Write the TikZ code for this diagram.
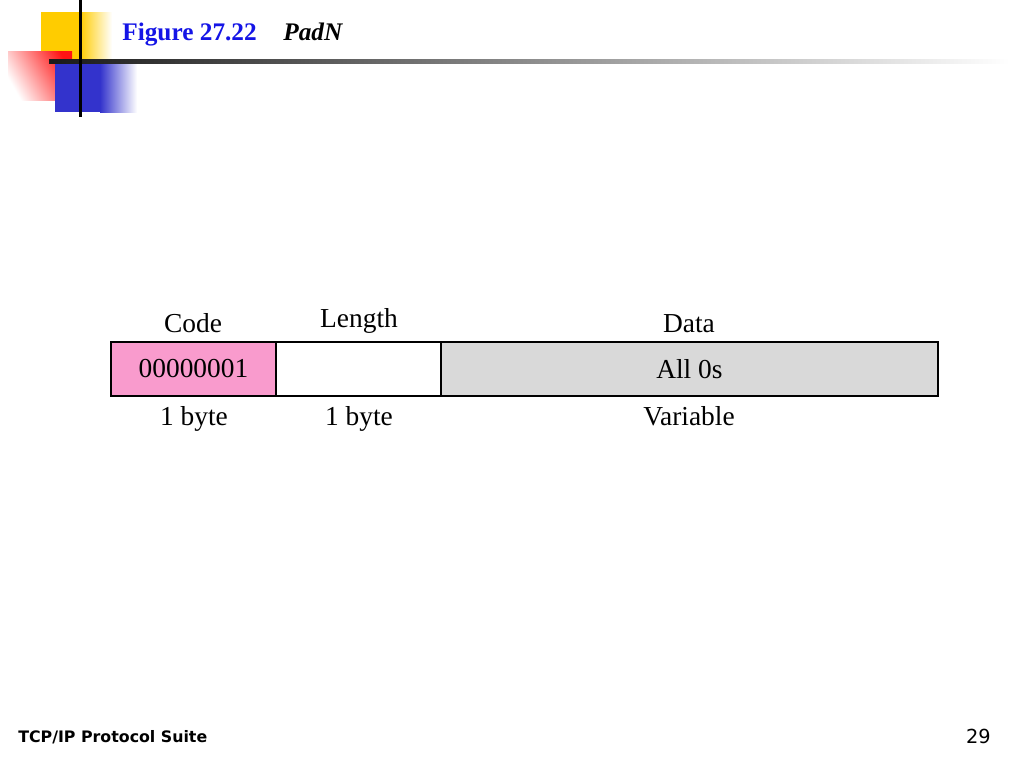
\documentclass[tikz,border=0pt]{standalone}
\usepackage{fontspec}
\setmainfont{Liberation Serif}
\newfontfamily\footfont{DejaVu Sans}
\usetikzlibrary{positioning}

\definecolor{codepink}{RGB}{249,155,205}
\definecolor{datagray}{RGB}{217,217,217}
\definecolor{titleblue}{RGB}{20,20,230}
\definecolor{decoyellow}{RGB}{255,204,0}
\definecolor{decored}{RGB}{255,20,20}
\definecolor{decoblue}{RGB}{51,51,204}

\tikzset{
  field/.style={draw, line width=1pt, minimum height=1.08cm, inner sep=0pt, outer sep=0pt,
    anchor=north west, font=\fontsize{15.6}{18}\selectfont},
  lbl/.style={inner sep=0pt, anchor=base, font=\fontsize{15.6}{18}\selectfont},
}

\begin{document}
\begin{tikzpicture}[x=0.02cm, y=-0.02cm]
\useasboundingbox (0,0) rectangle (1024,768);

% corner decoration
\fill[decoyellow] (41,12) rectangle (80,62);
\shade[left color=decoyellow, right color=white] (80,12) rectangle (112,62);
\shade[top color=decored, bottom color=white, shading angle=-60] (8,51) rectangle (72,100);
\fill[decoblue] (55,62) rectangle (100,112);
\shade[left color=decoblue, right color=white] (100,62) rectangle (137,112);
\shade[left color=black!90, right color=white] (49,59) rectangle (1010,63);
\fill[black] (79,0) rectangle (82,117);

% title
\node (fignum) [inner sep=0pt, anchor=base west, text=titleblue,
  font=\bfseries\fontsize{14.4}{17}\selectfont] at (122,40) {Figure 27.22};
\node (figname) [inner sep=0pt, anchor=base west,
  font=\bfseries\itshape\fontsize{14.4}{17}\selectfont] at (283,40) {PadN};

% option fields
\node (code) [field, fill=codepink, minimum width=3.3cm] at (111,342) {00000001};
\node (length) [field, minimum width=3.3cm] at (code.north east) {};
\node (data) [field, fill=datagray, minimum width=9.94cm] at (length.north east) {All 0s};

\node (codename) [lbl] at (193,332) {Code};
\node (lengthname) [lbl] at (359,327) {Length};
\node (dataname) [lbl] at (689,332) {Data};

\node (codesize) [lbl] at (194,425) {1 byte};
\node (lengthsize) [lbl] at (359,425) {1 byte};
\node (datasize) [lbl] at (689,425) {Variable};

% footer
\node (suite) [inner sep=0pt, anchor=base west,
  font=\footfont\bfseries\fontsize{9}{11}\selectfont] at (18,742) {TCP/IP Protocol Suite};
\node (page) [inner sep=0pt, anchor=base east,
  font=\footfont\fontsize{11}{13}\selectfont] at (991,743) {29};
\end{tikzpicture}
\end{document}
